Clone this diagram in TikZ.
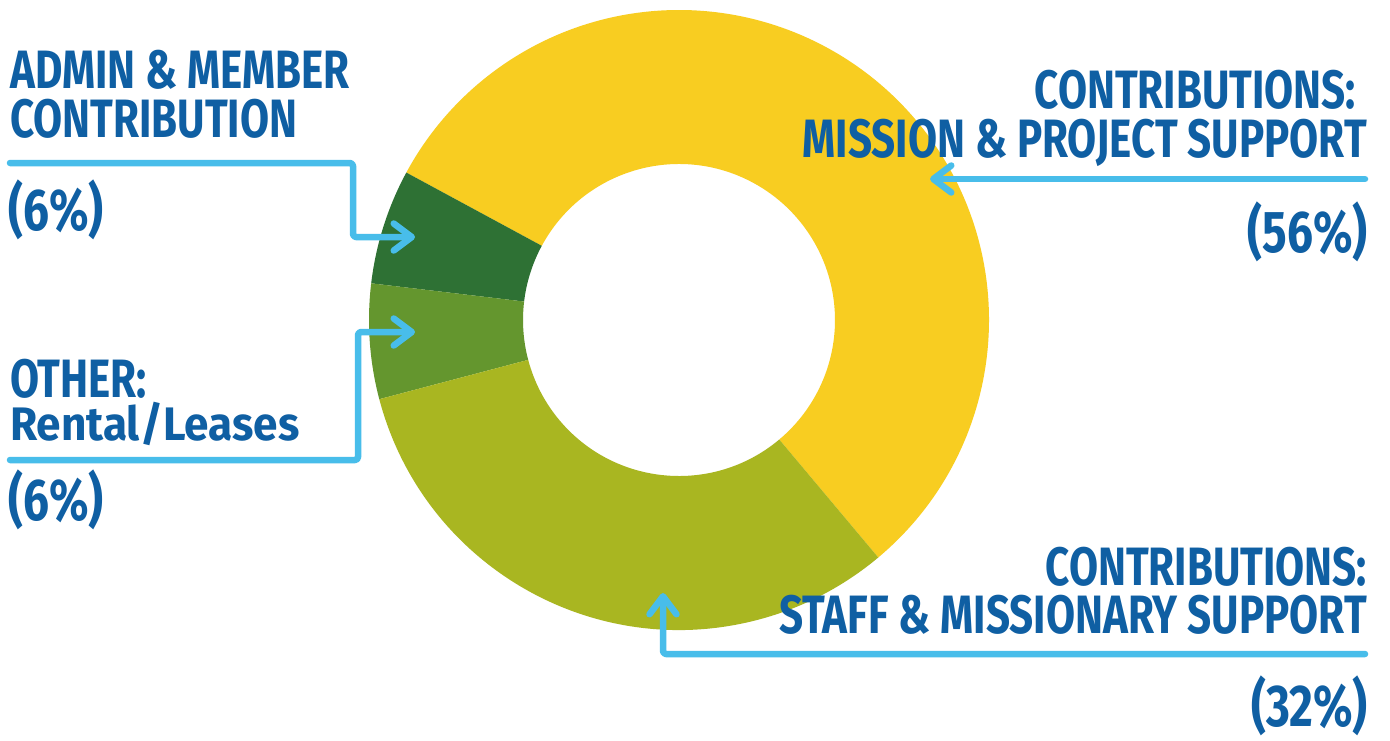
\documentclass[tikz,border=0pt]{standalone}
\usepackage{fontspec}
\usetikzlibrary{arrows.meta}
\newfontfamily\diagfam[FakeStretch=0.78]{Fira Sans}
\newfontfamily\diagfamwide[FakeStretch=0.94]{Fira Sans}
\newcommand\diagfont{\diagfam\bfseries\fontsize{54}{60}\selectfont}
\newcommand\diagfontlow{\diagfamwide\bfseries\fontsize{47}{55}\selectfont}
\newcommand\diagfontpct{\diagfam\bfseries\fontsize{59}{64}\selectfont}
\definecolor{tblue}{HTML}{0F5FA3}
\definecolor{lblue}{HTML}{48BDEA}
\definecolor{cyel}{HTML}{F8CD21}
\definecolor{cdark}{HTML}{2E7134}
\definecolor{cmid}{HTML}{64962E}
\definecolor{colive}{HTML}{A9B621}
\newcommand\donutseg[3]{\fill[#1] (#2:310) arc[start angle=#2,end angle=#3,radius=310] -- (#3:156) arc[start angle=#3,end angle=#2,radius=156] -- cycle;}
\begin{document}
\begin{tikzpicture}[x=1pt,y=-1pt,
  lbl/.style={font=\diagfont, text=tblue, inner sep=0pt},
  pct/.style={lbl, font=\diagfontpct},
  conn/.style={draw=lblue, line width=6.5pt, line cap=round, line join=round, rounded corners=3pt,
    -{Straight Barb[length=18pt,width=27pt,round]}}]
\useasboundingbox[fill=white] (0,0) rectangle (1390,740);
\coordinate (c) at (679,320);
\begin{scope}[shift={(c)}, y=1pt]
  \donutseg{cyel}{-50}{151.6}
  \donutseg{cdark}{151.6}{173.2}
  \donutseg{cmid}{173.2}{194.8}
  \donutseg{colive}{194.8}{310}
\end{scope}
% labels
\node[lbl,anchor=base west] (adm1) at (10,88) {ADMIN \& MEMBER};
\node[lbl,anchor=base west] (adm2) at (10,137) {CONTRIBUTION};
\node[pct,anchor=base west] (admP) at (8,230) {(6\%)};
\node[lbl,anchor=base west] (oth1) at (10,397) {OTHER:};
\node[lbl,anchor=base west,font=\diagfontlow] (oth2) at (10,440) {Rental/Leases};
\node[pct,anchor=base west] (othP) at (8,520) {(6\%)};
\node[lbl,anchor=base east] (mis1) at (1356,108) {CONTRIBUTIONS:};
\node[lbl,anchor=base east] (mis2) at (1367,157) {MISSION \& PROJECT SUPPORT};
\node[pct,anchor=base east] (misP) at (1368,252) {(56\%)};
\node[lbl,anchor=base east] (stf1) at (1367,585) {CONTRIBUTIONS:};
\node[lbl,anchor=base east] (stf2) at (1367,633) {STAFF \& MISSIONARY SUPPORT};
\node[pct,anchor=base east] (stfP) at (1368,726) {(32\%)};
% connector points
\coordinate (admS) at (10,163);
\coordinate (admK) at (353,237);
\coordinate (admT) at (415,237);
\coordinate (othS) at (10,460);
\coordinate (othK) at (358,332);
\coordinate (othT) at (415,332);
\coordinate (misS) at (1365,179);
\coordinate (misT) at (930,179);
\coordinate (stfS) at (1365,654);
\coordinate (stfT) at (663,593);
\draw[conn] (admS) -| (admK) -- (admT);
\draw[conn] (othS) -| (othK) -- (othT);
\draw[conn] (misS) -- (misT);
\draw[conn] (stfS) -| (stfT);
\end{tikzpicture}
\end{document}
